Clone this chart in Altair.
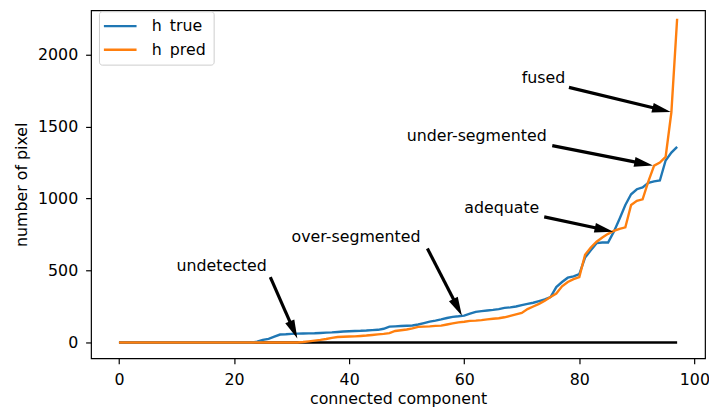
import math
import altair as alt
import pandas as pd

# ---------------- data ----------------
component = list(range(98))

h_true = [0] * 24 + [
    5, 18, 25, 40, 55, 57, 60, 61, 62, 63,          # 24-33
    64, 66, 68, 70, 73, 76, 78, 80, 81, 83,         # 34-43
    86, 88, 95, 110, 112, 114, 116, 118, 125, 135,  # 44-53
    145, 152, 160, 170, 178, 182, 187, 200, 213, 218,   # 54-63
    222, 226, 232, 240, 244, 250, 260, 268, 276, 288,   # 64-73
    300, 316, 385, 420, 450, 460, 475, 590, 640, 690,   # 74-83
    695, 695, 770, 860, 955, 1030, 1065, 1078, 1110, 1120,  # 84-93
    1126, 1265, 1320, 1360,                         # 94-97
]

h_pred = [0] * 32 + [
    3, 8, 13, 18, 24, 32, 38, 40,                   # 32-39
    41, 42, 45, 48, 52, 56, 60, 65, 80, 85,         # 40-49
    90, 98, 108, 110, 112, 115, 117, 125, 133, 140, # 50-59
    144, 150, 152, 155, 160, 165, 168, 175, 185, 195,   # 60-69
    205, 232, 250, 268, 290, 316, 340, 390, 420, 440,   # 70-79
    455, 610, 660, 700, 730, 755, 775, 790, 800, 955,   # 80-89
    985, 995, 1120, 1229, 1250, 1290, 1600, 2250,   # 90-97
]

zero_line = [0] * 98

label_true = "h\u2002true"
label_pred = "h\u2002pred"

x_ticks = [0, 20, 40, 60, 80, 100]
y_ticks = [0, 500, 1000, 1500, 2000]

ann_text = ["undetected", "over-segmented", "adequate", "under-segmented", "fused"]
ann_text_x = [10, 30, 60, 50, 70]
ann_text_y = [500, 700, 900, 1400, 1800]
ann_tail_x = [26.3, 53.6, 73.9, 75.3, 78.2]
ann_tail_y = [454, 653, 873, 1368, 1773]
ann_tip_x = [31.0, 59.6, 85.9, 92.8, 95.9]
ann_tip_y = [27, 186, 770, 1230, 1601]

# ---------------- layout / style ----------------
X_DOM = [-4.85, 101.85]
Y_DOM = [-110, 2309]
W, H = 621, 352
FONT = "DejaVu Sans"
FS = 16
BLUE, ORANGE = "#1f77b4", "#ff7f0e"
LW = 2.4
HEAD_LEN = 19.0
HEAD_HALF = 5.0
SHAFT_W = 3.2

sx = W / (X_DOM[1] - X_DOM[0])
sy = H / (Y_DOM[1] - Y_DOM[0])

rows = []
for t, tx, ty, ax, ay, px, py in zip(ann_text, ann_text_x, ann_text_y,
                                     ann_tail_x, ann_tail_y, ann_tip_x, ann_tip_y):
    dx = (px - ax) * sx
    dy = -(py - ay) * sy
    L = math.hypot(dx, dy)
    ux, uy = dx / L, dy / L
    ang = math.degrees(math.atan2(dx, -dy)) % 360
    back = HEAD_LEN * 0.8
    ex = px - ux * back / sx
    ey = py + uy * back / sy
    rows.append(dict(text=t, tx=tx, ty=ty, ax=ax, ay=ay, px=px, py=py,
                     ex=ex, ey=ey, angle=ang))
ann = pd.DataFrame(rows)

true_df = pd.DataFrame({"component": component, "pixels": h_true, "series": label_true})
pred_df = pd.DataFrame({"component": component, "pixels": h_pred, "series": label_pred})
zero_df = pd.DataFrame({"component": component, "pixels": zero_line})

xscale = alt.Scale(domain=X_DOM, nice=False, zero=False)
yscale = alt.Scale(domain=Y_DOM, nice=False, zero=False)

x_enc = alt.X("component:Q", scale=xscale,
              axis=alt.Axis(values=x_ticks, title="connected component", format="d",
                            titleY=41, titleBaseline="middle"))
y_enc = alt.Y("pixels:Q", scale=yscale,
              axis=alt.Axis(values=y_ticks, title="number of pixel", format="d",
                            titleX=-70, titleY=H / 2, titleBaseline="middle"))

color_enc = alt.Color(
    "series:N",
    scale=alt.Scale(domain=[label_true, label_pred], range=[BLUE, ORANGE]),
    legend=alt.Legend(
        title=None, orient="none", legendX=8, legendY=1, padding=7,
        symbolType="M-2.54,0L2.54,0", symbolSize=169, symbolStrokeWidth=LW,
        symbolOffset=6.5, labelOffset=24, rowPadding=8,
        labelFont=FONT, labelFontSize=FS, labelColor="black",
        fillColor="rgba(255,255,255,0.8)", strokeColor="#cccccc",
        cornerRadius=3,
    ),
)

zero = alt.Chart(zero_df).mark_line(color="black", strokeWidth=LW).encode(
    x=x_enc, y=y_enc)
blue = alt.Chart(true_df).mark_line(strokeWidth=LW).encode(
    x="component:Q", y="pixels:Q", color=color_enc)
orange = alt.Chart(pred_df).mark_line(strokeWidth=LW).encode(
    x="component:Q", y="pixels:Q", color=color_enc)

shafts = alt.Chart(ann).mark_rule(color="black", strokeWidth=SHAFT_W).encode(
    x="ax:Q", y="ay:Q", x2="ex:Q", y2="ey:Q")

head_path = "M0,0L-{h},1L{h},1Z".format(h=round(HEAD_HALF / HEAD_LEN, 4))
heads = alt.Chart(ann).mark_point(
    shape=head_path, filled=True, size=(2 * HEAD_LEN) ** 2,
    color="black", opacity=1, strokeWidth=0,
).encode(x="px:Q", y="py:Q", angle=alt.Angle("angle:Q", scale=None))

texts = alt.Chart(ann).mark_text(
    align="left", baseline="alphabetic", font=FONT, fontSize=FS, color="black"
).encode(x="tx:Q", y="ty:Q", text="text:N")

chart = alt.layer(zero, blue, orange, shafts, heads, texts).properties(
    width=W, height=H,
    padding={"left": 84, "top": 0, "right": 4, "bottom": 48},
    autosize=alt.AutoSizeParams(type="none"),
).configure_view(
    stroke="black", strokeWidth=1.2,
).configure_axis(
    grid=False, domain=False, tickColor="black", tickWidth=1.2, tickSize=5.5,
    labelPadding=8, labelFont=FONT, labelFontSize=FS, labelColor="black",
    labelFlush=False, titleFont=FONT, titleFontSize=FS, titleFontWeight="normal",
    titleColor="black",
)

chart.save("out.html", embed_options={"renderer": "svg", "actions": False})
